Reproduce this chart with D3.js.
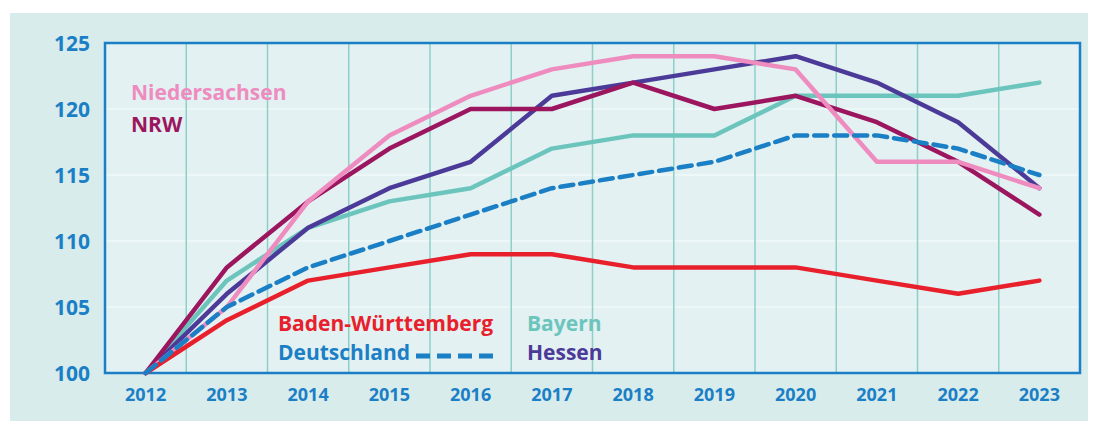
<!DOCTYPE html>
<html>
<head>
<meta charset="utf-8">
<script src="https://cdn.jsdelivr.net/npm/d3@7"></script>
<style>
  body { margin: 0; background: #fff; }
  svg text { font-family: "Open Sans", sans-serif; font-weight: 700; }
</style>
</head>
<body>
<div id="chart"></div>
<script>
const years = ["2012","2013","2014","2015","2016","2017","2018","2019","2020","2021","2022","2023"];
const yTicks = [100, 105, 110, 115, 120, 125];

const bayern        = [100, 107, 111, 113, 114, 117, 118, 118, 121, 121, 121, 122];
const hessen        = [100, 106, 111, 114, 116, 121, 122, 123, 124, 122, 119, 114];
const nrw           = [100, 108, 113, 117, 120, 120, 122, 120, 121, 119, 116, 112];
const niedersachsen = [100, 105, 113, 118, 121, 123, 124, 124, 123, 116, 116, 114];
const badenWue      = [100, 104, 107, 108, 109, 109, 108, 108, 108, 107, 106, 107];
const deutschland   = [100, 105, 108, 110, 112, 114, 115, 116, 118, 118, 117, 115];

const series = [
  { name: "Bayern", values: bayern, color: "#6cc5bd" },
  { name: "Hessen", values: hessen, color: "#4c3a99" },
  { name: "NRW", values: nrw, color: "#9b165e" },
  { name: "Niedersachsen", values: niedersachsen, color: "#ef8cbf" },
  { name: "Baden-Württemberg", values: badenWue, color: "#e8202c" },
  { name: "Deutschland", values: deutschland, color: "#1b7fc6", dash: "13,7" }
];
const colorOf = Object.fromEntries(series.map(s => [s.name, s.color]));

const W = 1094, H = 421;
const margin = { top: 43, right: 14, bottom: 48, left: 105 };
const width = W - margin.left - margin.right,
      height = H - margin.top - margin.bottom;

const svg = d3.select("#chart").append("svg")
  .attr("width", W).attr("height", H);

// Hintergrund
svg.append("rect").attr("x", 10).attr("y", 13).attr("width", 1078).attr("height", H - 13)
  .attr("fill", "#d9ecec");

const g = svg.append("g").attr("transform", `translate(${margin.left},${margin.top})`);

const x = d3.scaleBand().domain(years).range([0, width]);
const y = d3.scaleLinear().domain([100, 125]).range([height, 0]);

g.append("rect").attr("width", width).attr("height", height).attr("fill", "#e3f1f2");

// horizontale Gitterlinien
g.selectAll(".hgrid").data(yTicks.slice(1, -1)).enter().append("line")
  .attr("x1", 0).attr("x2", width)
  .attr("y1", d => y(d)).attr("y2", d => y(d))
  .attr("stroke", "#eef7f7").attr("stroke-width", 2);

// vertikale Gitterlinien zwischen den Jahren
g.selectAll(".vgrid").data(years.slice(1)).enter().append("line")
  .attr("x1", d => x(d)).attr("x2", d => x(d))
  .attr("y1", 0).attr("y2", height)
  .attr("stroke", "#8ed0c8").attr("stroke-width", 1.5);

// Rahmen
g.append("rect").attr("width", width).attr("height", height)
  .attr("fill", "none").attr("stroke", "#1b7fc6").attr("stroke-width", 2.5);

// Achsenbeschriftungen
g.selectAll(".ylab").data(yTicks).enter().append("text")
  .attr("x", -15).attr("y", d => y(d)).attr("dy", "0.36em")
  .attr("text-anchor", "end").attr("font-size", 21).attr("fill", "#1b7fc6")
  .text(d => d);

g.selectAll(".xlab").data(years).enter().append("text")
  .attr("x", d => x(d) + x.bandwidth() / 2).attr("y", height + 22).attr("dy", "0.36em")
  .attr("text-anchor", "middle").attr("font-size", 18).attr("fill", "#1b7fc6")
  .text(d => d);

// Linien
const line = d3.line()
  .x((d, i) => x(years[i]) + x.bandwidth() / 2)
  .y(d => y(d));

g.selectAll(".series").data(series).enter().append("path")
  .attr("d", d => line(d.values))
  .attr("fill", "none")
  .attr("stroke", d => d.color)
  .attr("stroke-width", 4.5)
  .attr("stroke-linejoin", "round")
  .attr("stroke-linecap", "round")
  .attr("stroke-dasharray", d => d.dash || null);

// Beschriftungen der Linien
const labels = [
  { name: "Niedersachsen", x: 131, y: 92 },
  { name: "NRW", x: 131, y: 124 },
  { name: "Baden-Württemberg", x: 278, y: 323 },
  { name: "Deutschland", x: 278, y: 352 },
  { name: "Bayern", x: 527, y: 323 },
  { name: "Hessen", x: 527, y: 352 }
];
svg.selectAll(".lab").data(labels).enter().append("text")
  .attr("x", d => d.x).attr("y", d => d.y).attr("dy", "0.36em")
  .attr("font-size", 21).attr("fill", d => colorOf[d.name])
  .text(d => d.name);

svg.append("line")
  .attr("x1", 416).attr("x2", 493).attr("y1", 356).attr("y2", 356)
  .attr("stroke", colorOf["Deutschland"]).attr("stroke-width", 5)
  .attr("stroke-dasharray", "14,7");
</script>
</body>
</html>
